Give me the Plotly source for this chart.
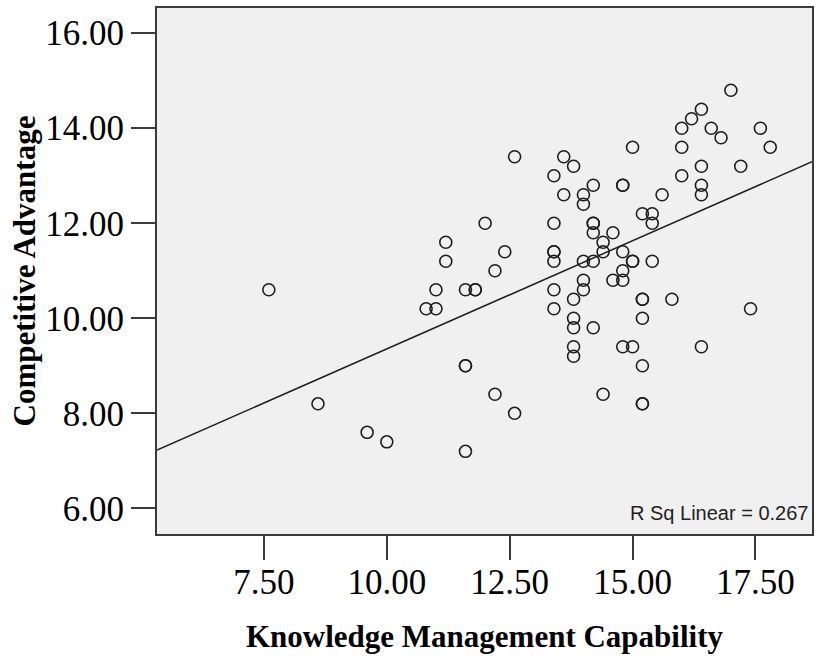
import plotly.graph_objects as go

# Knowledge Management Capability (x) and Competitive Advantage (y)
km = [17.0, 16.4, 16.2, 16.0, 16.6, 17.6, 16.8, 15.0, 16.0, 17.8,
      12.6, 13.6, 13.8, 16.4, 17.2, 13.4, 16.0, 14.2, 14.8, 14.8,
      16.4, 13.6, 14.0, 15.6, 16.4, 14.0, 15.2, 15.4, 12.0, 13.4,
      14.2, 14.2, 15.4, 14.2, 14.6, 14.4, 11.2, 12.4, 13.4, 13.4,
      14.4, 14.8, 11.2, 13.4, 14.0, 14.2, 15.0, 15.0, 15.4, 12.2,
      14.8, 14.0, 14.6, 14.8, 7.6, 11.0, 11.6, 11.8, 11.8, 13.4,
      14.0, 13.8, 15.2, 15.2, 15.8, 10.8, 11.0, 13.4, 17.4, 13.8,
      15.2, 13.8, 14.2, 13.8, 14.8, 15.0, 16.4, 13.8, 15.2, 11.6,
      11.6, 12.2, 14.4, 8.6, 15.2, 15.2, 12.6, 9.6, 10.0, 11.6]
ca = [14.8, 14.4, 14.2, 14.0, 14.0, 14.0, 13.8, 13.6, 13.6, 13.6,
      13.4, 13.4, 13.2, 13.2, 13.2, 13.0, 13.0, 12.8, 12.8, 12.8,
      12.8, 12.6, 12.6, 12.6, 12.6, 12.4, 12.2, 12.2, 12.0, 12.0,
      12.0, 12.0, 12.0, 11.8, 11.8, 11.6, 11.6, 11.4, 11.4, 11.4,
      11.4, 11.4, 11.2, 11.2, 11.2, 11.2, 11.2, 11.2, 11.2, 11.0,
      11.0, 10.8, 10.8, 10.8, 10.6, 10.6, 10.6, 10.6, 10.6, 10.6,
      10.6, 10.4, 10.4, 10.4, 10.4, 10.2, 10.2, 10.2, 10.2, 10.0,
      10.0, 9.8, 9.8, 9.4, 9.4, 9.4, 9.4, 9.2, 9.0, 9.0,
      9.0, 8.4, 8.4, 8.2, 8.2, 8.2, 8.0, 7.6, 7.4, 7.2]

# Linear fit
fit_intercept = 4.80
fit_slope = 0.4555
r_sq_text = "R Sq Linear = 0.267"

x_range = [5.325, 18.65]
y_range = [5.46, 16.53]
x_ticks = [7.5, 10.0, 12.5, 15.0, 17.5]
y_ticks = [6.0, 8.0, 10.0, 12.0, 14.0, 16.0]

fig = go.Figure()
fig.add_trace(go.Scatter(
    x=km, y=ca, mode="markers",
    marker=dict(symbol="circle-open", size=12, color="#1e1e1e",
                line=dict(width=1.6, color="#1e1e1e")),
    showlegend=False, hoverinfo="x+y"))

fx = [x_range[0], x_range[1]]
fy = [fit_intercept + fit_slope * v for v in fx]
fig.add_trace(go.Scatter(x=fx, y=fy, mode="lines",
                         line=dict(color="#1e1e1e", width=1.5),
                         showlegend=False, hoverinfo="skip"))

serif = "Liberation Serif, Times New Roman, serif"
fig.update_layout(
    width=817, height=657,
    margin=dict(l=157, r=3, t=8, b=123),
    paper_bgcolor="white", plot_bgcolor="#f0f0f0",
    xaxis=dict(range=x_range, tickvals=x_ticks, tickformat=".2f",
               showgrid=False, zeroline=False,
               showline=True, mirror=True, linecolor="#3a3a3a", linewidth=2,
               ticks="outside", ticklen=24, tickwidth=2, tickcolor="#3a3a3a",
               ticklabelstandoff=-8,
               tickfont=dict(family=serif, size=35, color="#000"),
               title=dict(text="<b>Knowledge Management Capability</b>",
                          font=dict(family=serif, size=31, color="#000"),
                          standoff=24)),
    yaxis=dict(range=y_range, tickvals=y_ticks, tickformat=".2f",
               showgrid=False, zeroline=False,
               showline=True, mirror=True, linecolor="#3a3a3a", linewidth=2,
               ticks="outside", ticklen=24, tickwidth=2, tickcolor="#3a3a3a",
               tickfont=dict(family=serif, size=35, color="#000"),
               title=dict(text="<b>Competitive Advantage</b>",
                          font=dict(family=serif, size=31, color="#000"),
                          standoff=0)),
    annotations=[dict(text=r_sq_text, xref="paper", yref="paper",
                      x=0.997, y=0.04, xanchor="right", yanchor="middle",
                      showarrow=False,
                      font=dict(family="Liberation Sans, Arial, sans-serif",
                                size=20, color="#222"))],
)

fig.write_html("out.html")
